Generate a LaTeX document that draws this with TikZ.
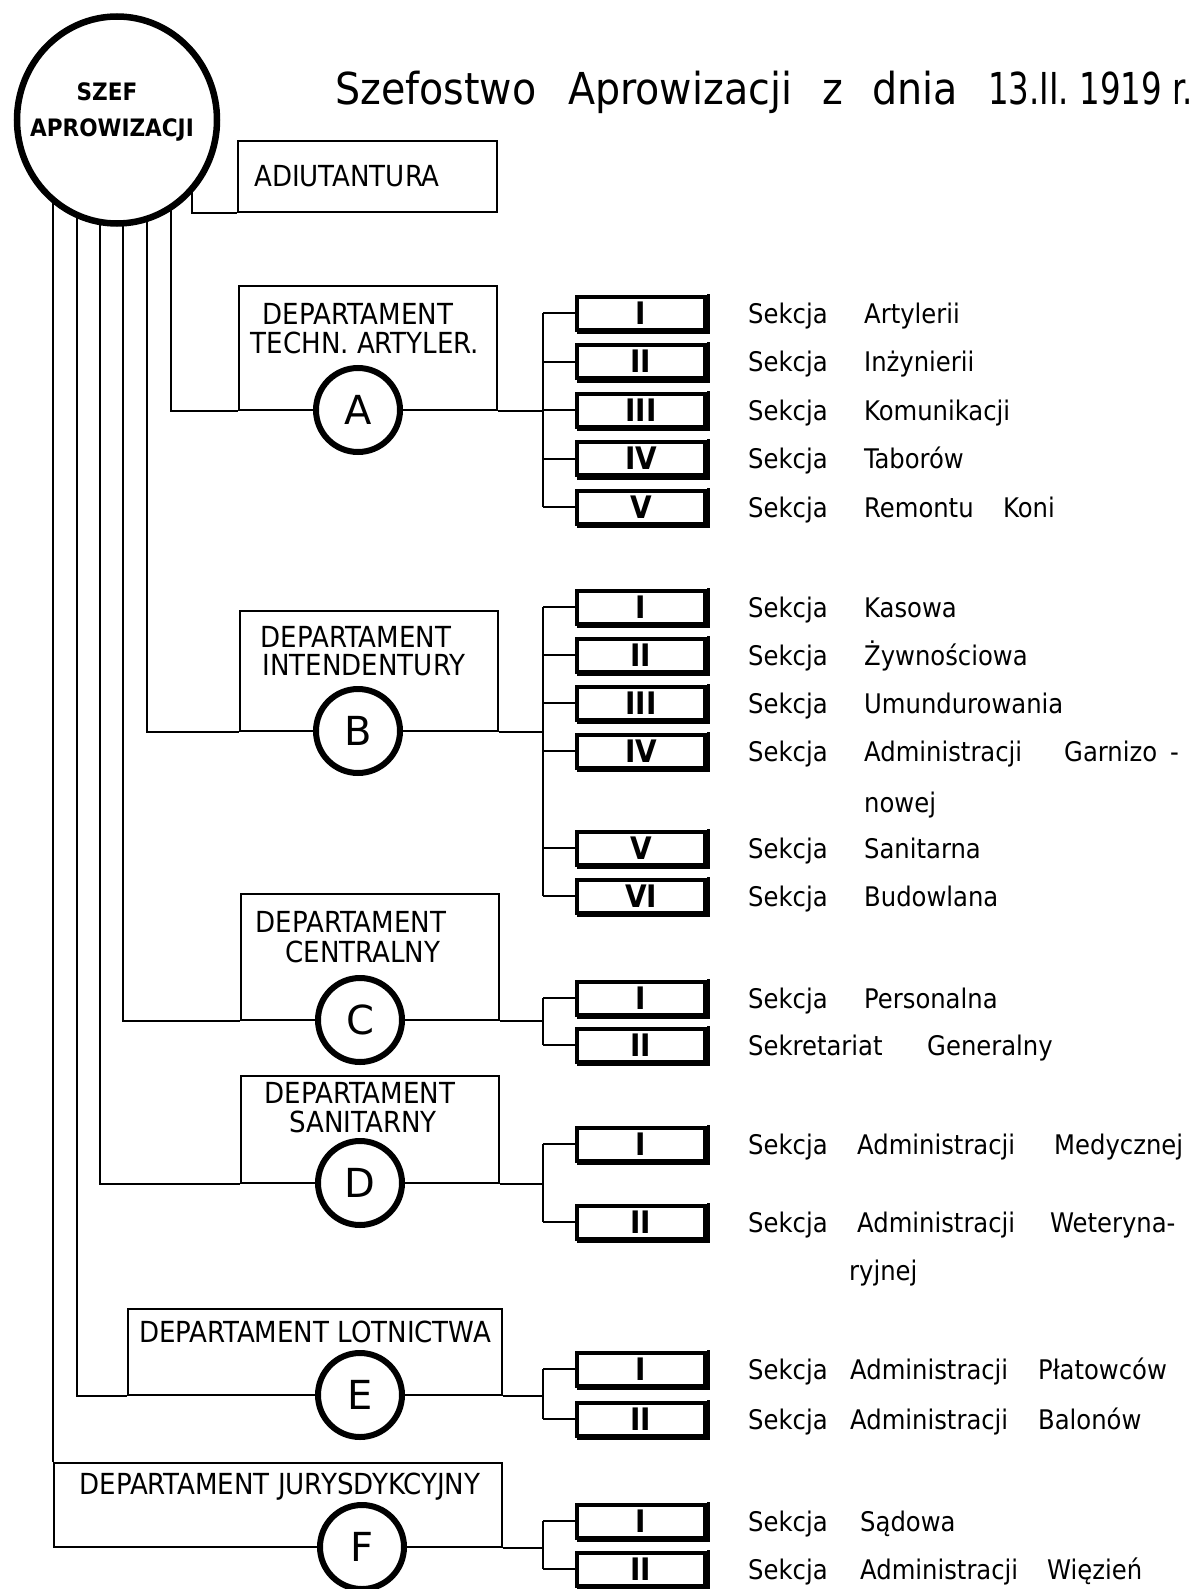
\documentclass[tikz,border=0pt]{standalone}
\usepackage{fontspec}
\setmainfont{DejaVu Sans}
\newfontfamily\condfont{DejaVu Sans Condensed}
\newfontfamily\boldcond{DejaVu Sans Condensed Bold}
\newfontfamily\letfont{DejaVu Sans}
\usetikzlibrary{shapes.geometric}
\pgfdeclarelayer{bg}
\pgfsetlayers{bg,main}
\begin{document}
\begin{tikzpicture}[x=1pt,y=-1pt,
  conn/.style={line width=2pt},
  deptbox/.style={draw, line width=2.2pt, rectangle, inner sep=0pt},
  deptcirc/.style={draw, circle, line width=6pt, fill=white, minimum size=84pt, inner sep=0pt,
    font=\letfont\fontsize{40}{40}\selectfont},
  subbox/.style={draw, rectangle, line width=4pt, minimum width=128pt, minimum height=33pt,
    inner sep=0pt, fill=white, font=\boldcond\fontsize{31}{31}\selectfont},
  shade/.style={line width=2.5pt},
  caps/.style={anchor=base, inner sep=0pt, font=\condfont\fontsize{29}{29}\selectfont},
  sek/.style={anchor=base west, inner sep=0pt, font=\condfont\fontsize{27}{27}\selectfont},
]
\useasboundingbox (0,0) rectangle (1191,1589);
\begin{pgfonlayer}{bg}
\fill[white] (0,0) rectangle (1191,1589);
\end{pgfonlayer}

% title
\node[anchor=base west, inner sep=0pt, font=\condfont\fontsize{44}{44}\selectfont] (title) at (335,105)
  {\makebox[233pt][l]{Szefostwo }\makebox[254pt][l]{Aprowizacji }\makebox[50pt][l]{z }\makebox[116pt][l]{dnia }\scalebox{0.82}[1]{13.II. 1919 r.}};

% chief
\node[ellipse, draw, line width=6.5pt, fill=white, minimum width=200pt, minimum height=207pt, inner sep=0pt] (szef) at (117,120) {};
\node[caps, font=\boldcond\fontsize{24}{24}\selectfont] (szef1) at (107,101) {SZEF};
\node[caps, font=\boldcond\fontsize{24}{24}\selectfont] (szef2) at (112,137) {APROWIZACJI};

% bus x positions
\coordinate (xadj) at (192,0);
\coordinate (xA) at (171,0);
\coordinate (xB) at (147,0);
\coordinate (xC) at (123,0);
\coordinate (xD) at (100,0);
\coordinate (xE) at (77,0);
\coordinate (brx) at (543,0);

% Adiutantura
\node[deptbox, minimum width=259pt, minimum height=71pt] (adj) at (367.5,176.5) {};
\node[anchor=base west, inner sep=0pt, font=\condfont\fontsize{29}{29}\selectfont] (adjt) at (254,187) {ADIUTANTURA};

% departments boxes
\node[deptbox, minimum width=258pt, minimum height=124pt] (Abox) at (368,348) {};
\node[deptbox, minimum width=258pt, minimum height=120pt] (Bbox) at (369,671) {};
\node[deptbox, minimum width=258pt, minimum height=126pt] (Cbox) at (370,957) {};
\node[deptbox, minimum width=258pt, minimum height=107pt] (Dbox) at (370,1129.5) {};
\node[deptbox, minimum width=374pt, minimum height=86pt] (Ebox) at (315,1352) {};
\node[deptbox, minimum width=448pt, minimum height=84pt] (Fbox) at (278,1505) {};

\node[caps] (Al1) at (358,324) {DEPARTAMENT};
\node[caps] (Al2) at (365,353) {TECHN. ARTYLER.};
\node[caps] (Bl1) at (356,647.5) {DEPARTAMENT};
\node[caps] (Bl2) at (364,675.5) {INTENDENTURY};
\node[caps] (Cl1) at (351,932.5) {DEPARTAMENT};
\node[caps] (Cl2) at (363,962.5) {CENTRALNY};
\node[caps] (Dl1) at (360,1103.5) {DEPARTAMENT};
\node[caps] (Dl2) at (363,1132.5) {SANITARNY};
\node[caps] (El1) at (315,1342.5) {DEPARTAMENT LOTNICTWA};
\node[caps] (Fl1) at (280,1494.5) {DEPARTAMENT JURYSDYKCYJNY};

\node[deptcirc] (cA) at (358,410) {A};
\node[deptcirc] (cB) at (358,731) {B};
\node[deptcirc] (cC) at (360,1020) {C};
\node[deptcirc] (cD) at (360,1183) {D};
\node[deptcirc] (cE) at (360,1395) {E};
\node[deptcirc] (cF) at (362,1547) {F};

% sub boxes
\node[subbox] (A1) at (641,313) {I};
\node[subbox] (A2) at (641,361.5) {II};
\node[subbox] (A3) at (641,410) {III};
\node[subbox] (A4) at (641,458.5) {IV};
\node[subbox] (A5) at (641,507) {V};

\node[subbox] (B1) at (641,607) {I};
\node[subbox] (B2) at (641,655) {II};
\node[subbox] (B3) at (641,703) {III};
\node[subbox] (B4) at (641,751) {IV};
\node[subbox] (B5) at (641,848) {V};
\node[subbox] (B6) at (641,896) {VI};

\node[subbox] (C1) at (641,998) {I};
\node[subbox] (C2) at (641,1045) {II};

\node[subbox] (D1) at (641,1144) {I};
\node[subbox] (D2) at (641,1222) {II};

\node[subbox] (E1) at (641,1369) {I};
\node[subbox] (E2) at (641,1419) {II};

\node[subbox] (F1) at (641,1521) {I};
\node[subbox] (F2) at (641,1569) {II};

% heavier lower/right edge of the section boxes
\foreach \b in {A1,A2,A3,A4,A5,B1,B2,B3,B4,B5,B6,C1,C2,D1,D2,E1,E2,F1,F2} {
  \draw[shade] ([xshift=2pt,yshift=-1.5pt]\b.south west) -- ([xshift=1.5pt,yshift=-1.5pt]\b.south east) -- ([xshift=1.5pt,yshift=1pt]\b.north east);
}

% connectors
\begin{pgfonlayer}{bg}
\draw[conn] (szef.center -| xadj) |- (adj.south west);
\draw[conn] (szef.center -| xA) |- (Abox.south west);
\draw[conn] (szef.center -| xB) |- (Bbox.south west);
\draw[conn] (szef.center -| xC) |- (Cbox.south west);
\draw[conn] (szef.center -| xD) |- (Dbox.south west);
\draw[conn] (szef.center -| xE) |- (Ebox.south west);
\draw[conn] (szef.center -| Fbox.north west) -- (Fbox.north west);
\end{pgfonlayer}

\draw[conn] (Abox.south east) -- (Abox.south east -| brx);
\draw[conn] (A1.west -| brx) -- (A5.west -| brx);
\foreach \i in {1,...,5} {\draw[conn] (A\i.west -| brx) -- (A\i.west);}

\draw[conn] (Bbox.south east) -- (Bbox.south east -| brx);
\draw[conn] (B1.west -| brx) -- (B6.west -| brx);
\foreach \i in {1,...,6} {\draw[conn] (B\i.west -| brx) -- (B\i.west);}

\draw[conn] (Cbox.south east) -- (Cbox.south east -| brx);
\draw[conn] (C1.west -| brx) -- (C2.west -| brx);
\foreach \i in {1,2} {\draw[conn] (C\i.west -| brx) -- (C\i.west);}

\draw[conn] (Dbox.south east) -- (Dbox.south east -| brx);
\draw[conn] (D1.west -| brx) -- (D2.west -| brx);
\foreach \i in {1,2} {\draw[conn] (D\i.west -| brx) -- (D\i.west);}

\draw[conn] (Ebox.south east) -- (Ebox.south east -| brx);
\draw[conn] (E1.west -| brx) -- (E2.west -| brx);
\foreach \i in {1,2} {\draw[conn] (E\i.west -| brx) -- (E\i.west);}

\draw[conn] (Fbox.south east) -- (Fbox.south east -| brx);
\draw[conn] (F1.west -| brx) -- (F2.west -| brx);
\foreach \i in {1,2} {\draw[conn] (F\i.west -| brx) -- (F\i.west);}

% section labels
\node[sek] (tA1) at (748,323) {\makebox[116pt][l]{Sekcja }Artylerii};
\node[sek] (tA2) at (748,371.5) {\makebox[116pt][l]{Sekcja }Inżynierii};
\node[sek] (tA3) at (748,420) {\makebox[116pt][l]{Sekcja }Komunikacji};
\node[sek] (tA4) at (748,468.5) {\makebox[116pt][l]{Sekcja }Taborów};
\node[sek] (tA5) at (748,517) {\makebox[116pt][l]{Sekcja }\makebox[139pt][l]{Remontu }Koni};

\node[sek] (tB1) at (748,617) {\makebox[116pt][l]{Sekcja }Kasowa};
\node[sek] (tB2) at (748,665) {\makebox[116pt][l]{Sekcja }Żywnościowa};
\node[sek] (tB3) at (748,713) {\makebox[116pt][l]{Sekcja }Umundurowania};
\node[sek] (tB4) at (748,761) {\makebox[116pt][l]{Sekcja }\makebox[200pt][l]{Administracji }\makebox[106pt][l]{Garnizo }-};
\node[sek] (tB4b) at (864,812) {nowej};
\node[sek] (tB5) at (748,858) {\makebox[116pt][l]{Sekcja }Sanitarna};
\node[sek] (tB6) at (748,906) {\makebox[116pt][l]{Sekcja }Budowlana};

\node[sek] (tC1) at (748,1008) {\makebox[116pt][l]{Sekcja }Personalna};
\node[sek] (tC2) at (748,1055) {\makebox[179pt][l]{Sekretariat }Generalny};

\node[sek] (tD1) at (748,1154) {\makebox[109pt][l]{Sekcja }\makebox[197pt][l]{Administracji }Medycznej};
\node[sek] (tD2) at (748,1232) {\makebox[109pt][l]{Sekcja }\makebox[193pt][l]{Administracji }Weteryna-};
\node[sek] (tD2b) at (849,1280) {ryjnej};

\node[sek] (tE1) at (748,1379) {\makebox[102pt][l]{Sekcja }\makebox[188pt][l]{Administracji }Płatowców};
\node[sek] (tE2) at (748,1429) {\makebox[102pt][l]{Sekcja }\makebox[188pt][l]{Administracji }Balonów};

\node[sek] (tF1) at (748,1531) {\makebox[112pt][l]{Sekcja }Sądowa};
\node[sek] (tF2) at (748,1579) {\makebox[112pt][l]{Sekcja }\makebox[187pt][l]{Administracji }Więzień};
\end{tikzpicture}
\end{document}
